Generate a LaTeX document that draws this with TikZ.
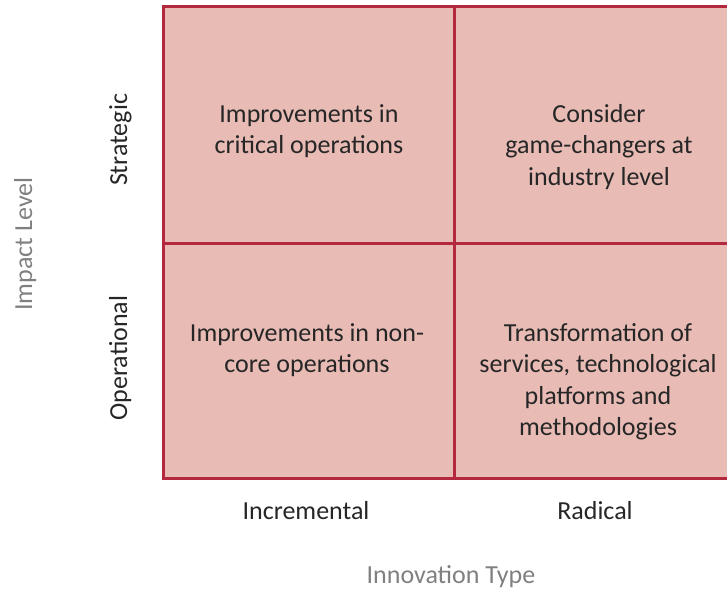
\documentclass[tikz,border=0pt]{standalone}
\usepackage{fontspec}
\setmainfont{Carlito}
\definecolor{cellfill}{HTML}{E8BBB5}
\definecolor{gridline}{HTML}{B3283D}
\definecolor{darktext}{HTML}{262626}
\definecolor{graytext}{HTML}{808080}
\begin{document}
\begin{tikzpicture}[x=1pt,y=-1pt,
  cell/.style={draw=none,fill=cellfill,inner sep=0pt,anchor=north west},
  qtext/.style={align=center,anchor=base,inner sep=0pt,text=darktext,font=\fontsize{26}{31.5}\selectfont},
  axlabel/.style={anchor=base,inner sep=0pt,text=darktext,font=\fontsize{26}{31.5}\selectfont},
  axtitle/.style={anchor=base,inner sep=0pt,text=graytext,font=\fontsize{26}{31.5}\selectfont},
  gridln/.style={draw=gridline,line width=3pt}]
\useasboundingbox (0,0) rectangle (727,589);
\clip (0,0) rectangle (727,589);
% cells
\node[cell,minimum width=291pt,minimum height=236.5pt] (tl) at (163.5,6.5) {};
\node[cell,minimum width=300pt,minimum height=236.5pt] (tr) at (454.5,6.5) {};
\node[cell,minimum width=291pt,minimum height=235.5pt] (bl) at (163.5,243) {};
\node[cell,minimum width=300pt,minimum height=235.5pt] (br) at (454.5,243) {};
% grid
\draw[gridln] (tr.north east) -- (tl.north west) -- (bl.south west) -- (br.south east);
\draw[gridln] (tl.north east) -- (bl.south east);
\draw[gridln] (tl.south west) -- (tr.south east);
% quadrant texts
\node[qtext] (ttl) at (309,153.5) {Improvements in\\critical operations};
\node[qtext] (ttr) at (599,185) {Consider\\game-changers at\\industry level};
\node[qtext] (tbl) at (307,372.5) {Improvements in non-\\core operations};
\node[qtext] (tbr) at (598,435.5) {Transformation of\\services, technological\\platforms and\\methodologies};
% axis labels
\node[axlabel,rotate=90] (strat) at (127,140) {Strategic};
\node[axlabel,rotate=90] (oper) at (127,358) {Operational};
\node[axtitle,rotate=90] (impact) at (32,244) {Impact Level};
\node[axlabel] (incr) at (306,519) {Incremental};
\node[axlabel] (rad) at (595,519) {Radical};
\node[axtitle] (innov) at (451,583) {Innovation Type};
\end{tikzpicture}
\end{document}
